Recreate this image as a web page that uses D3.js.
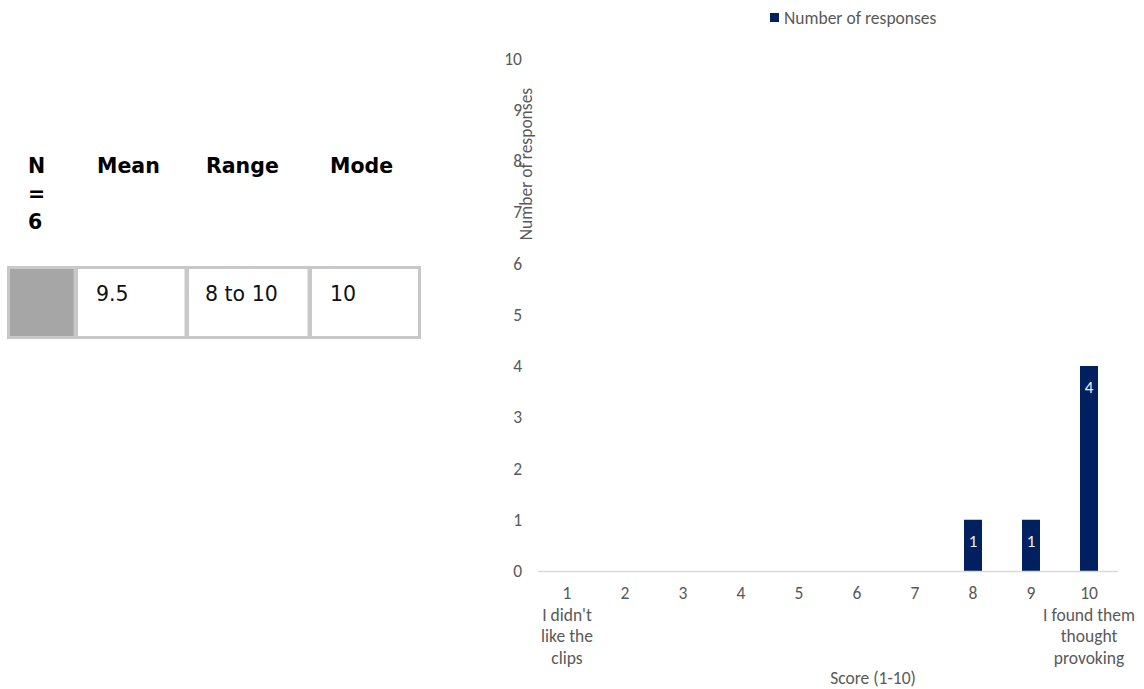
<!DOCTYPE html>
<html>
<head>
<meta charset="utf-8">
<script src="https://cdn.jsdelivr.net/npm/d3@7"></script>
<style>
  html, body { margin: 0; padding: 0; background: #ffffff; }
  svg { display: block; }
</style>
</head>
<body>
<svg id="chart" width="1144" height="689"></svg>
<script>
// ---- Data ----
const categories = ["1","2","3","4","5","6","7","8","9","10"];
const categorySubLabels = {"1": ["I didn't","like the","clips"], "10": ["I found them","thought","provoking"]};
const responses = [0,0,0,0,0,0,0,1,1,4];
const yTicks = [0,1,2,3,4,5,6,7,8,9,10];
const seriesName = "Number of responses";
const yTitle = "Number of responses";
const xTitle = "Score (1-10)";

const tableHeaders = ["Mean","Range","Mode"];
const nLabelLines = ["N","=","6"];
const tableValues = ["9.5","8 to 10","10"];

// ---- Setup ----
const svg = d3.select("#chart");
const chartFont = "Carlito, Calibri, Lato, sans-serif";
const tableFont = "Verdana, 'DejaVu Sans', sans-serif";
const grey = "#595959";
const barColor = "#002060";
const fs = 17.5;

// ---- Table (left) ----
const tbl = svg.append("g");
tbl.selectAll("text.nlab").data(nLabelLines).join("text")
  .attr("class","nlab")
  .attr("x", 28).attr("y", (d,i) => 173 + i*28)
  .attr("font-family", tableFont).attr("font-weight","bold").attr("font-size", 20.5)
  .attr("fill", "#000").text(d => d);

const headerX = [97, 206, 330];
tbl.selectAll("text.hdr").data(tableHeaders).join("text")
  .attr("class","hdr")
  .attr("x", (d,i) => headerX[i]).attr("y", 173)
  .attr("font-family", tableFont).attr("font-weight","bold").attr("font-size", 20.5)
  .attr("fill", "#000").text(d => d);

const cellEdges = [7, 75, 186, 309, 421];
const rowTop = 266, rowBottom = 339;
tbl.append("rect").attr("x", cellEdges[0]).attr("y", rowTop)
  .attr("width", cellEdges[1]-cellEdges[0]).attr("height", rowBottom-rowTop)
  .attr("fill", "#a6a6a6");
for (let i = 0; i < 4; i++) {
  tbl.append("rect")
    .attr("x", cellEdges[i]+1.5).attr("y", rowTop+1.5)
    .attr("width", cellEdges[i+1]-cellEdges[i]-3 + (i<3?1.5:0)).attr("height", rowBottom-rowTop-3)
    .attr("fill", "none").attr("stroke", "#c8c8c8").attr("stroke-width", 3);
}
const valX = [96, 205, 330];
tbl.selectAll("text.val").data(tableValues).join("text")
  .attr("class","val")
  .attr("x", (d,i) => valX[i]).attr("y", 301)
  .attr("font-family", tableFont).attr("font-size", 20.5)
  .attr("fill", "#111").text(d => d);

// ---- Chart (right) ----
const x = d3.scaleBand().domain(categories).range([538, 1118])
  .paddingInner(0.69).paddingOuter(0.345);
const y = d3.scaleLinear().domain([0, 10]).range([571, 58.5]);

// Y axis
const yAxis = svg.append("g").attr("transform", "translate(538,0)")
  .call(d3.axisLeft(y).tickValues(yTicks).tickSize(0).tickPadding(16).tickFormat(d3.format("d")));
yAxis.select(".domain").remove();
yAxis.selectAll("text").attr("font-family", chartFont).attr("font-size", fs).attr("fill", grey);

// Y axis title
svg.append("text")
  .attr("transform", "translate(532,164) rotate(-90)")
  .attr("text-anchor", "middle")
  .attr("font-family", chartFont).attr("font-size", fs).attr("fill", grey)
  .text(yTitle);

// Bars
svg.append("g").selectAll("rect").data(categories).join("rect")
  .attr("x", d => x(d)).attr("width", x.bandwidth())
  .attr("y", (d,i) => y(responses[i]))
  .attr("height", (d,i) => y(0) - y(responses[i]))
  .attr("fill", barColor);

// Baseline
svg.append("line")
  .attr("x1", 538).attr("x2", 1118).attr("y1", y(0)+0.5).attr("y2", y(0)+0.5)
  .attr("stroke", "#d9d9d9").attr("stroke-width", 1.5);

// X axis labels
const xAxis = svg.append("g").attr("transform", `translate(0,${y(0)})`)
  .call(d3.axisBottom(x).tickSize(0).tickPadding(12));
xAxis.select(".domain").remove();
xAxis.selectAll(".tick text").each(function(d) {
  const t = d3.select(this);
  t.text(null).attr("font-family", chartFont).attr("font-size", fs).attr("fill", grey)
    .attr("dy", null).attr("y", 0);
  t.append("tspan").attr("x", 0).attr("y", 28).text(d);
  (categorySubLabels[d] || []).forEach((line, k) => {
    t.append("tspan").attr("x", 0).attr("y", 50 + k*21.3).text(line);
  });
});

// Data labels
svg.append("g").selectAll("text").data(categories.filter((d,i) => responses[i] > 0)).join("text")
  .attr("x", d => x(d) + x.bandwidth()/2)
  .attr("y", d => y(responses[categories.indexOf(d)]) + 27)
  .attr("text-anchor", "middle")
  .attr("font-family", chartFont).attr("font-size", 17).attr("fill", "#f0f0f0")
  .text(d => responses[categories.indexOf(d)]);

// X axis title
svg.append("text")
  .attr("x", 873).attr("y", 684).attr("text-anchor", "middle")
  .attr("font-family", chartFont).attr("font-size", fs).attr("fill", grey)
  .text(xTitle);

// Legend
const lg = svg.append("g");
lg.append("rect").attr("x", 770).attr("y", 13).attr("width", 9).attr("height", 9).attr("fill", barColor);
lg.append("text").attr("x", 784).attr("y", 24)
  .attr("font-family", chartFont).attr("font-size", fs).attr("fill", grey)
  .text(seriesName);
</script>
</body>
</html>
